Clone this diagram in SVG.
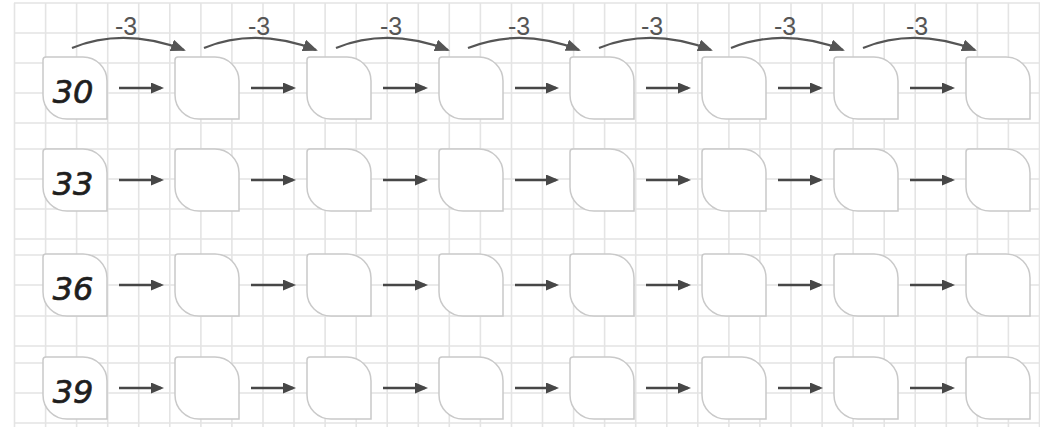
<svg xmlns="http://www.w3.org/2000/svg" width="1040" height="430" viewBox="0 0 1040 430">
<style>
.grid{stroke:#e4e4e4;stroke-width:1.6;fill:none}
.box{fill:#fff;stroke:#c9c9c9;stroke-width:1.5}
.num{font-family:"DejaVu Sans",sans-serif;font-size:32px;font-style:italic;fill:#1e1e1e;stroke:#1e1e1e;stroke-width:0.7;text-anchor:middle}
.lbl{font-family:"Liberation Sans",Arial,sans-serif;font-size:25px;fill:#555;text-anchor:middle}
.arr{stroke:#474747;stroke-width:2.6;fill:none;marker-end:url(#ah)}
.cur{stroke:#555;stroke-width:2.2;fill:none;marker-end:url(#ch)}
</style>
<defs>
<marker id="ah" markerUnits="userSpaceOnUse" markerWidth="13" markerHeight="11" refX="10" refY="5.5" orient="auto"><path d="M0,0 L13,5.5 L0,11 Z" fill="#474747"/></marker>
<marker id="ch" markerUnits="userSpaceOnUse" markerWidth="15" markerHeight="12" refX="13" refY="6" orient="auto"><path d="M0,0 L15,6 L0,12 Z" fill="#555"/></marker>
<path id="leaf" class="box" d="M3,0 H40 A24,24 0 0 1 64,24 V62 H24 A24,24 0 0 1 0,38 V3 A3,3 0 0 1 3,0 Z"/>
</defs>
<rect width="1040" height="430" fill="#fff"/>
<g id="grid">
<path class="grid" d="M14,3H1040M14,33H1040M14,63H1040M14,93H1040M14,123H1040M14,149H1040M14,179H1040M14,209H1040M14,239H1040M14,255H1040M14,285H1040M14,316H1040M14,346H1040M14,363H1040M14,393H1040M14,423H1040"/>
<path class="grid" d="M14.5,3V427M45.6,3V427M76.6,3V427M107.7,3V427M138.7,3V427M169.8,3V427M200.9,3V427M231.9,3V427M263,3V427M294,3V427M325.1,3V427M356.2,3V427M387.2,3V427M418.3,3V427M449.3,3V427M480.4,3V427M511.5,3V427M542.5,3V427M573.6,3V427M604.6,3V427M635.7,3V427M666.8,3V427M697.8,3V427M728.9,3V427M759.9,3V427M791,3V427M822.1,3V427M853.1,3V427M884.2,3V427M915.2,3V427M946.3,3V427M977.4,3V427M1008.4,3V427M1039.5,3V427"/>
</g>
<g id="connectors">
<path class="cur" d="M72,48 Q124,27 184,50"/>
<path class="cur" d="M204,48 Q256,27 316,50"/>
<path class="cur" d="M336,48 Q388,27 448,50"/>
<path class="cur" d="M468,48 Q520,27 579,50"/>
<path class="cur" d="M599,48 Q651,27 711,50"/>
<path class="cur" d="M731,48 Q783,27 843,50"/>
<path class="cur" d="M863,48 Q915,27 975,50"/>
<text class="lbl" x="126" y="35">-3</text>
<text class="lbl" x="259" y="35">-3</text>
<text class="lbl" x="391" y="35">-3</text>
<text class="lbl" x="519" y="35">-3</text>
<text class="lbl" x="652" y="35">-3</text>
<text class="lbl" x="785" y="35">-3</text>
<text class="lbl" x="917" y="35">-3</text>
<path class="arr" d="M119,88H161"/><path class="arr" d="M251,88H293"/><path class="arr" d="M383,88H425"/><path class="arr" d="M515,88H556"/><path class="arr" d="M646,88H688"/><path class="arr" d="M778,88H820"/><path class="arr" d="M910,88H952"/>
<path class="arr" d="M119,180H161"/><path class="arr" d="M251,180H293"/><path class="arr" d="M383,180H425"/><path class="arr" d="M515,180H556"/><path class="arr" d="M646,180H688"/><path class="arr" d="M778,180H820"/><path class="arr" d="M910,180H952"/>
<path class="arr" d="M119,285H161"/><path class="arr" d="M251,285H293"/><path class="arr" d="M383,285H425"/><path class="arr" d="M515,285H556"/><path class="arr" d="M646,285H688"/><path class="arr" d="M778,285H820"/><path class="arr" d="M910,285H952"/>
<path class="arr" d="M119,388H161"/><path class="arr" d="M251,388H293"/><path class="arr" d="M383,388H425"/><path class="arr" d="M515,388H556"/><path class="arr" d="M646,388H688"/><path class="arr" d="M778,388H820"/><path class="arr" d="M910,388H952"/>
</g>
<g id="n1-1"><use href="#leaf" x="43" y="57"/><text class="num" x="73" y="103">30</text></g>
<g id="n1-2"><use href="#leaf" x="175" y="57"/></g>
<g id="n1-3"><use href="#leaf" x="307" y="57"/></g>
<g id="n1-4"><use href="#leaf" x="439" y="57"/></g>
<g id="n1-5"><use href="#leaf" x="570" y="57"/></g>
<g id="n1-6"><use href="#leaf" x="702" y="57"/></g>
<g id="n1-7"><use href="#leaf" x="834" y="57"/></g>
<g id="n1-8"><use href="#leaf" x="966" y="57"/></g>
<g id="n2-1"><use href="#leaf" x="43" y="149"/><text class="num" x="73" y="195">33</text></g>
<g id="n2-2"><use href="#leaf" x="175" y="149"/></g>
<g id="n2-3"><use href="#leaf" x="307" y="149"/></g>
<g id="n2-4"><use href="#leaf" x="439" y="149"/></g>
<g id="n2-5"><use href="#leaf" x="570" y="149"/></g>
<g id="n2-6"><use href="#leaf" x="702" y="149"/></g>
<g id="n2-7"><use href="#leaf" x="834" y="149"/></g>
<g id="n2-8"><use href="#leaf" x="966" y="149"/></g>
<g id="n3-1"><use href="#leaf" x="43" y="254"/><text class="num" x="73" y="300">36</text></g>
<g id="n3-2"><use href="#leaf" x="175" y="254"/></g>
<g id="n3-3"><use href="#leaf" x="307" y="254"/></g>
<g id="n3-4"><use href="#leaf" x="439" y="254"/></g>
<g id="n3-5"><use href="#leaf" x="570" y="254"/></g>
<g id="n3-6"><use href="#leaf" x="702" y="254"/></g>
<g id="n3-7"><use href="#leaf" x="834" y="254"/></g>
<g id="n3-8"><use href="#leaf" x="966" y="254"/></g>
<g id="n4-1"><use href="#leaf" x="43" y="357"/><text class="num" x="73" y="403">39</text></g>
<g id="n4-2"><use href="#leaf" x="175" y="357"/></g>
<g id="n4-3"><use href="#leaf" x="307" y="357"/></g>
<g id="n4-4"><use href="#leaf" x="439" y="357"/></g>
<g id="n4-5"><use href="#leaf" x="570" y="357"/></g>
<g id="n4-6"><use href="#leaf" x="702" y="357"/></g>
<g id="n4-7"><use href="#leaf" x="834" y="357"/></g>
<g id="n4-8"><use href="#leaf" x="966" y="357"/></g>
</svg>
